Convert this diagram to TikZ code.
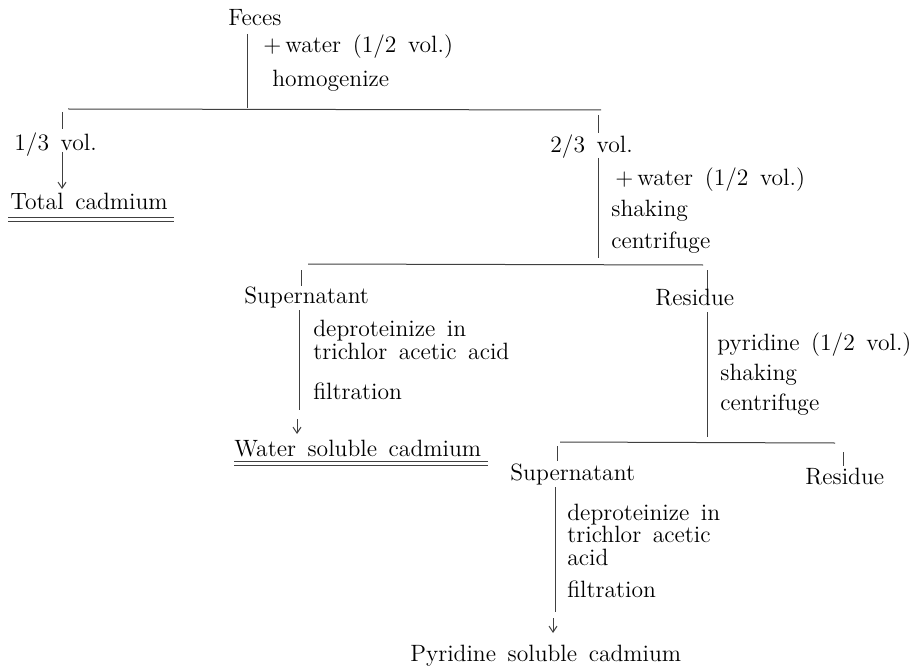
\documentclass[tikz,border=0pt]{standalone}
\usetikzlibrary{arrows.meta}
\newcommand\diagfont{\fontsize{11.8}{14}\selectfont\spaceskip=5.8pt plus 1pt\relax}
\begin{document}
\begin{tikzpicture}[x=0.5pt,y=-0.5pt,
  txt/.style={inner sep=0pt, anchor=mid west, yshift=-1pt, font=\diagfont},
  ln/.style={line width=0.5pt, black!75},
  arr/.style={ln,-{Straight Barb[length=3pt,width=4pt]}}]
\useasboundingbox[fill=white] (0,0) rectangle (914,668);

% level 0
\node[txt] (feces) at (228,19) {Feces};
\node[txt] (w1) at (263,46) {+\,water (1/2 vol.)};
\node[txt] (hom) at (272,80) {homogenize};
\coordinate (f1) at (247,34);
\coordinate (f2) at (247,108);
\draw[ln] (f1) -- (f2);
\coordinate (h1L) at (68,109);
\coordinate (h1R) at (601,110);
\draw[ln] (h1L) -- (h1R);

% left branch
\coordinate (t1a) at (62,112);
\coordinate (t1b) at (62,129);
\draw[ln] (t1a) -- (t1b);
\node[txt] (v13) at (14,144) {1/3 vol.};
\coordinate (a1a) at (62,152);
\coordinate (a1b) at (62,189);
\draw[arr] (a1a) -- (a1b);
\node[txt] (total) at (10,203) {Total cadmium};
\coordinate (u1a) at (8,217);
\coordinate (u1b) at (174,217);
\coordinate (u1c) at (8,221);
\coordinate (u1d) at (174,221);
\draw[ln] (u1a) -- (u1b);
\draw[ln] (u1c) -- (u1d);

% right branch
\coordinate (t2a) at (598,115);
\coordinate (t2b) at (598,133);
\draw[ln] (t2a) -- (t2b);
\node[txt] (v23) at (550,146) {2/3 vol.};
\coordinate (l2a) at (598,158);
\coordinate (l2b) at (598,258);
\draw[ln] (l2a) -- (l2b);
\node[txt] (w2) at (615,179) {+\,water (1/2 vol.)};
\node[txt] (shake1) at (611,210) {shaking};
\node[txt] (cent1) at (611,242) {centrifuge};
\coordinate (h2L) at (308,264);
\coordinate (h2R) at (703,265);
\draw[ln] (h2L) -- (h2R);

% supernatant 1
\coordinate (t3a) at (301,270);
\coordinate (t3b) at (301,286);
\draw[ln] (t3a) -- (t3b);
\node[txt] (sup1) at (244,297) {Supernatant};
\coordinate (l3a) at (299,310);
\coordinate (l3b) at (299,410);
\draw[ln] (l3a) -- (l3b);
\coordinate (a3a) at (297,419);
\coordinate (a3b) at (297,434);
\draw[arr] (a3a) -- (a3b);
\node[txt] (dp1) at (313,330) {deproteinize in};
\node[txt] (tca1) at (313,353) {trichlor acetic acid};
\node[txt] (filt1) at (313,393) {filtration};
\node[txt] (water) at (234,450) {Water soluble cadmium};
\coordinate (u3a) at (234,461);
\coordinate (u3b) at (488,461);
\coordinate (u3c) at (234,465);
\coordinate (u3d) at (488,465);
\draw[ln] (u3a) -- (u3b);
\draw[ln] (u3c) -- (u3d);

% residue 1
\coordinate (t4a) at (707,270);
\coordinate (t4b) at (707,289);
\draw[ln] (t4a) -- (t4b);
\node[txt] (res1) at (655,299) {Residue};
\coordinate (l4a) at (707,312);
\coordinate (l4b) at (707,437);
\draw[ln] (l4a) -- (l4b);
\node[txt] (pyr) at (717,344) {pyridine (1/2 vol.)};
\node[txt] (shake2) at (720,374) {shaking};
\node[txt] (cent2) at (720,404) {centrifuge};
\coordinate (h3L) at (560,442);
\coordinate (h3R) at (835,443);
\draw[ln] (h3L) -- (h3R);

% supernatant 2
\coordinate (t5a) at (557,446);
\coordinate (t5b) at (557,461);
\draw[ln] (t5a) -- (t5b);
\node[txt] (sup2) at (510,474) {Supernatant};
\coordinate (t6a) at (843,452);
\coordinate (t6b) at (843,466);
\draw[ln] (t6a) -- (t6b);
\node[txt] (res2) at (805,478) {Residue};
\coordinate (l5a) at (555,487);
\coordinate (l5b) at (555,612);
\draw[ln] (l5a) -- (l5b);
\coordinate (a5a) at (553,618);
\coordinate (a5b) at (553,633);
\draw[arr] (a5a) -- (a5b);
\node[txt] (dp2) at (567,514) {deproteinize in};
\node[txt] (tca2) at (567,536) {trichlor acetic};
\node[txt] (acid2) at (567,559) {acid};
\node[txt] (filt2) at (567,591) {filtration};
\node[txt] (pyrsol) at (410,655) {Pyridine soluble cadmium};
\end{tikzpicture}
\end{document}
